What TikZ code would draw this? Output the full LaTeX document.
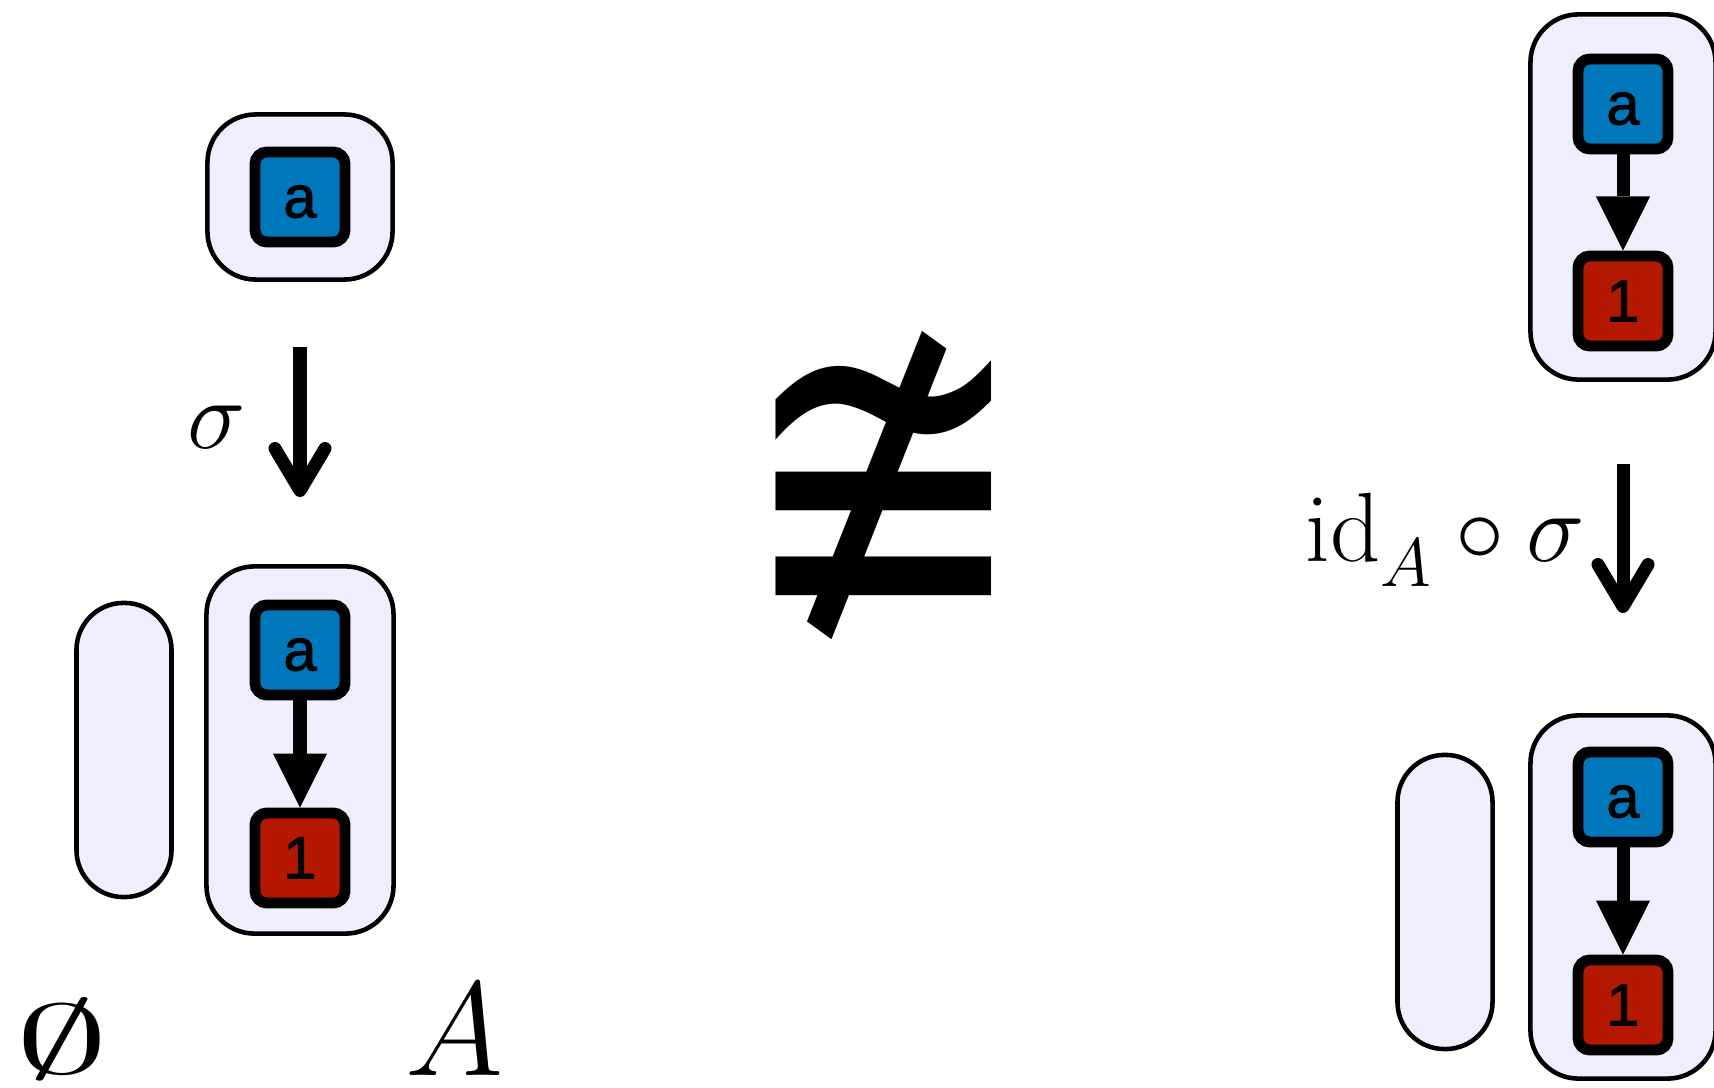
\RequirePackage{fix-cm}
\documentclass[tikz,border=0pt]{standalone}
\usepackage{fontspec}
\newfontfamily\tokfont[FakeBold=1.5]{Liberation Sans}
\newfontface\relfont{DejaVu Sans}
\usetikzlibrary{arrows.meta,positioning,backgrounds}

\definecolor{tokblue}{HTML}{0077BB}
\definecolor{tokred}{HTML}{B41800}
\definecolor{grpfill}{HTML}{EEEEFD}

\begin{document}
\begin{tikzpicture}[x=0.01cm, y=0.01cm,
  tok/.style={draw, line width=3.1pt, rounded corners=0.12cm, minimum size=0.9cm, inner sep=0pt,
    text height=0.41cm, text depth=0cm, font=\tokfont\fontsize{17}{17}\selectfont},
  grp/.style={draw, fill=grpfill, line width=1.3pt, rounded corners=0.48cm, inner sep=0pt, minimum width=1.85cm},
  pill/.style={minimum width=0.95cm, minimum height=2.94cm, rounded corners=0.47cm},
  flow/.style={line width=3.7pt, -{Triangle[length=0.54cm, width=0.54cm, line width=0pt]}},
  morph/.style={line width=3.7pt, -{Straight Barb[length=0.42cm, width=0.5cm, round]}},
  lbl/.style={inner sep=0pt, font=\fontsize{28}{34}\selectfont}]
  \useasboundingbox (0,0) rectangle (1714,1087);

  % left column
  \node[grp, minimum height=1.65cm] (gA) at (300,890) {};
  \node[tok, fill=tokblue] (a0) at (gA.center) {a};

  \node[grp, minimum width=1.87cm, minimum height=3.67cm] (gB) at (300,337) {};
  \node[grp, pill] (pB) at (124,337) {};
  \node[tok, fill=tokblue] (a1) at (300,437) {a};
  \node[tok, fill=tokred, below=1.07cm of a1] (n1) {1};
  \draw[flow] (a1) -- (n1);

  \draw[morph, shorten <=0.65cm, shorten >=0.67cm] (gA) -- (gB)
    node[lbl, midway, left=0.48cm, yshift=-0.04cm] (sig) {$\sigma$};

  \node[lbl] (empty) at (62,48) {\scalebox{1.9}[1]{$\emptyset$}};
  \node[lbl, font=\fontsize{38}{40}\selectfont] (setA) at (455,57) {$A$};

  % middle
  \node[inner sep=0pt] (ncong) at (884,601) {\scalebox{1.02}[1.38]{\relfont\fontsize{96}{96}\selectfont ≇}};

  % right column
  \node[grp, minimum height=3.65cm] (gC) at (1623,890) {};
  \node[tok, fill=tokblue] (a2) at (1623,983) {a};
  \node[tok, fill=tokred, below=0.96cm of a2] (n2) {1};
  \draw[flow] (a2) -- (n2);

  \node[grp, minimum height=3.63cm] (gD) at (1623,190) {};
  \node[grp, pill] (pD) at (1445,185) {};
  \node[tok, fill=tokblue] (a3) at (1623,290) {a};
  \node[tok, fill=tokred, below=1.07cm of a3] (n3) {1};
  \draw[flow] (a3) -- (n3);

  \draw[morph, shorten <=0.82cm, shorten >=1.0cm] (gC) -- (gD)
    node[lbl, midway, left=0.32cm, yshift=0.08cm] (idsig) {$\mathrm{id}_{\lower3pt\hbox{$\scriptstyle A$}}\circ\sigma$};
\end{tikzpicture}
\end{document}
